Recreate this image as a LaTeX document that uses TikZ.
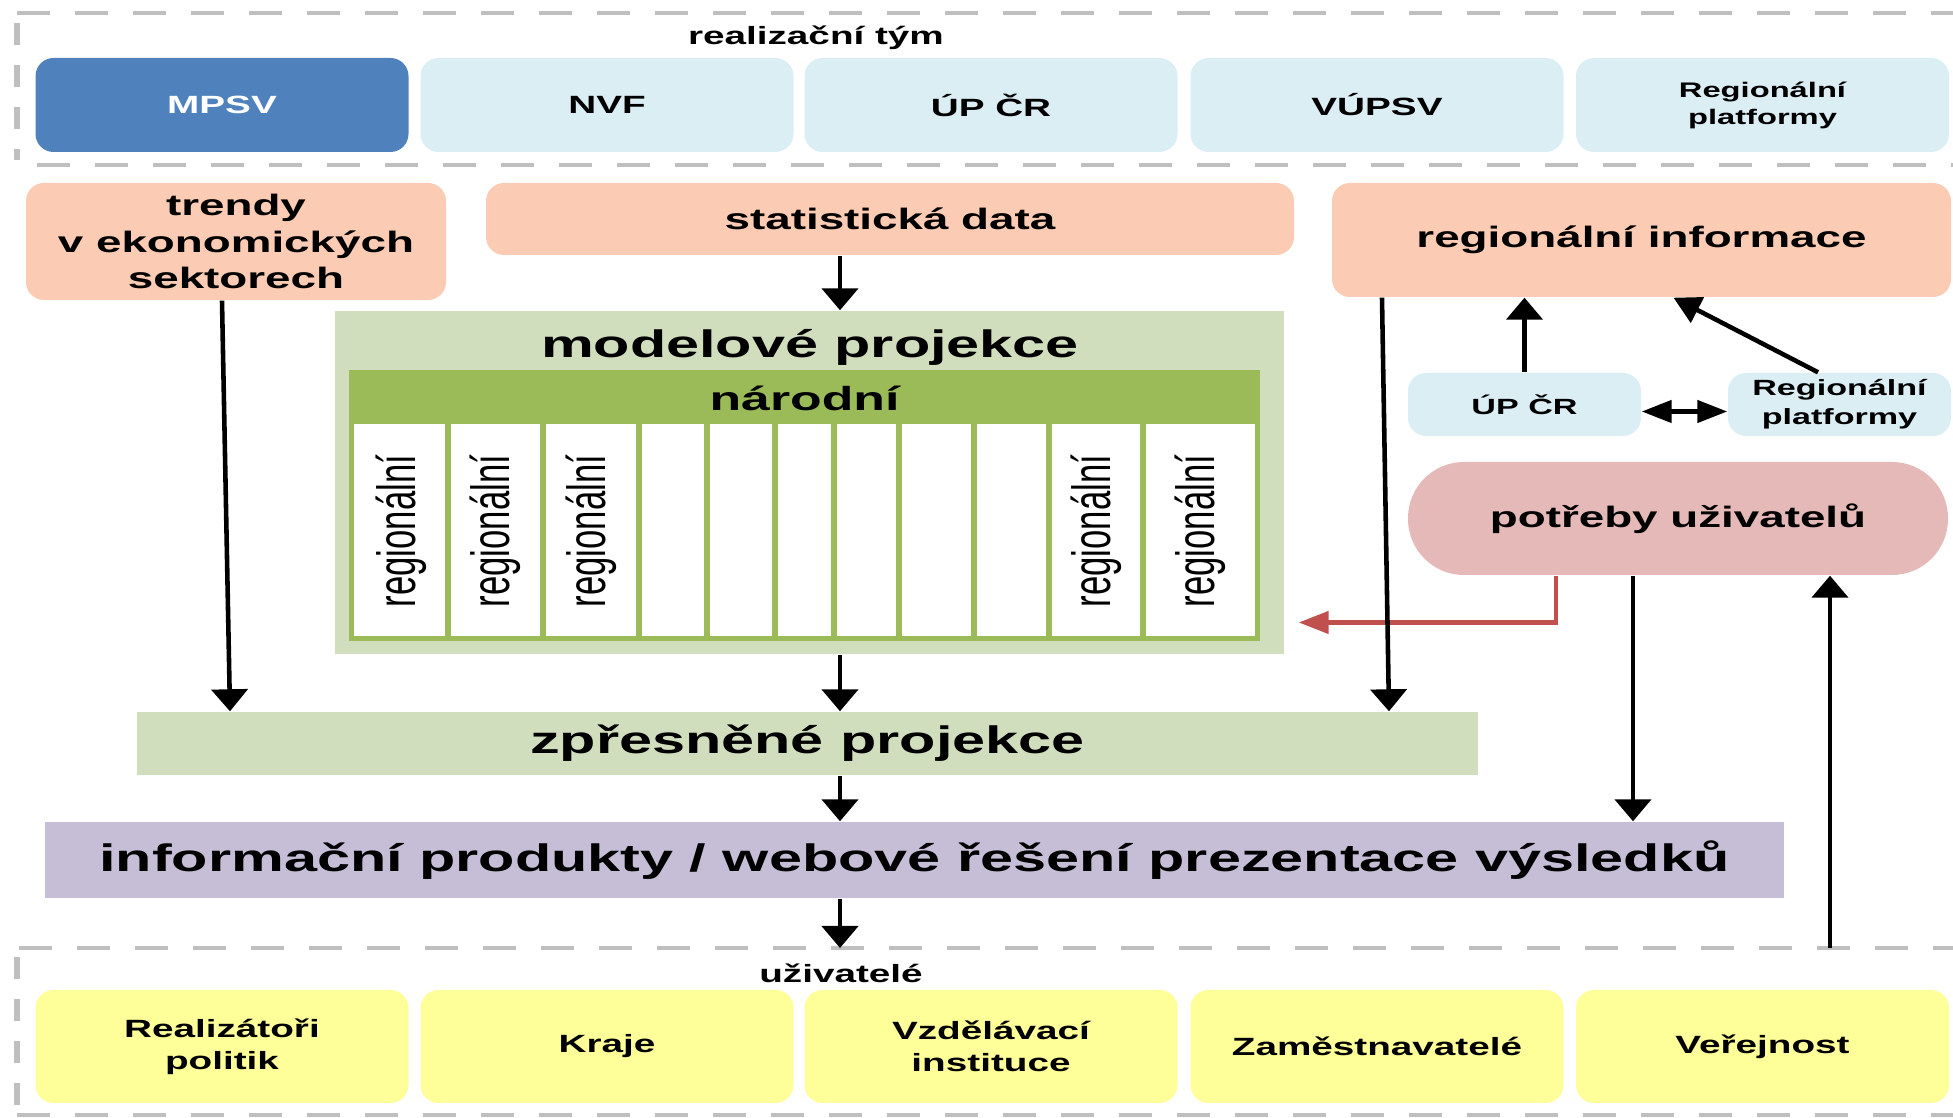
\documentclass[tikz,border=0pt]{standalone}
\usepackage{fontspec}
\setmainfont{Liberation Sans}[FakeStretch=1.55]
\newfontfamily\narrowfont{Liberation Sans}[FakeStretch=0.645]
\usetikzlibrary{arrows.meta}

\definecolor{mpsvblue}{HTML}{4F81BD}
\definecolor{teamblue}{HTML}{DBEEF4}
\definecolor{inputorange}{HTML}{FBCBB3}
\definecolor{modelgreen}{HTML}{D1DEBE}
\definecolor{natgreen}{HTML}{9BBB59}
\definecolor{infolilac}{HTML}{C6BED6}
\definecolor{needpink}{HTML}{E4B9B8}
\definecolor{useryellow}{HTML}{FFFF99}
\definecolor{framegray}{HTML}{BFBFBF}
\definecolor{needred}{HTML}{C0504D}

\tikzset{
  roundbox/.style={rounded corners=0.18cm, inner sep=0pt, align=center},
  teambox/.style={roundbox, fill=teamblue, minimum width=3.73cm, minimum height=0.94cm,
    font=\bfseries\fontsize{7.1}{9.1}\selectfont},
  userbox/.style={roundbox, fill=useryellow, minimum width=3.73cm, minimum height=1.13cm,
    font=\bfseries\fontsize{7.1}{9.1}\selectfont},
  inputbox/.style={roundbox, fill=inputorange, font=\bfseries\fontsize{8.4}{10.5}\selectfont},
  smallbox/.style={roundbox, fill=teamblue, minimum height=0.63cm,
    font=\bfseries\fontsize{6.26}{8.2}\selectfont},
  flatbox/.style={inner sep=0pt, align=center, font=\bfseries\fontsize{10.9}{13}\selectfont},
  regcol/.style={rotate=90, inner sep=0pt, font=\narrowfont\fontsize{15.3}{16}\selectfont},
  flow/.style={line width=1.3pt, -{Triangle[length=0.22cm,width=0.36cm]}},
  sideflow/.style={line width=1.3pt, -{Triangle[length=0.3cm,width=0.22cm]}},
  bothflow/.style={line width=1.3pt, {Triangle[length=0.3cm,width=0.22cm]}-{Triangle[length=0.3cm,width=0.22cm]}},
  diagflow/.style={line width=1.3pt, -{Triangle[length=0.27cm,width=0.28cm]}},
  dashline/.style={framegray, line width=0.04cm, dash pattern=on 0.33cm off 0.25cm},
  dashside/.style={framegray, line width=0.065cm, dash pattern=on 0.22cm off 0.2cm}
}

\begin{document}
\begin{tikzpicture}
    \useasboundingbox (0,0) rectangle (19.53,-11.18);

    % Draw the team frame
    \draw[dashline] (0.17,-0.13) -- (19.53,-0.13);
    \draw[dashline] (0.37,-1.65) -- (19.53,-1.65);
    \draw[dashside] (0.17,-0.23) -- (0.17,-1.60);
    \node[font=\bfseries\fontsize{7.1}{9}\selectfont] (teamlabel) at (8.16,-0.38) {realizační tým};

    % Draw the team boxes
    \node[teambox, fill=mpsvblue, text=white] (mpsv) at (2.22,-1.05) {MPSV};
    \node[teambox] (nvf) at (6.07,-1.05) {NVF};
    \node[teambox] (upcr) at (9.91,-1.05) {ÚP ČR};
    \node[teambox] (vupsv) at (13.77,-1.05) {VÚPSV};
    \node[teambox, font=\bfseries\fontsize{6}{7.7}\selectfont] (regplat) at (17.625,-1.05) {Regionální\\platformy};

    % Draw the inputs
    \node[inputbox, minimum width=4.20cm, minimum height=1.17cm] (trendy) at (2.36,-2.415) {trendy\\v ekonomických\\sektorech};
    \node[inputbox, minimum width=8.08cm, minimum height=0.72cm] (stat) at (8.90,-2.19) {statistická data};
    \node[inputbox, minimum width=6.19cm, minimum height=1.14cm] (reginf) at (16.415,-2.40) {regionální informace};

    % Draw the model block
    \node[fill=modelgreen, inner sep=0pt, minimum width=9.49cm, minimum height=3.43cm] (model) at (8.095,-4.825) {};
    \node[flatbox] (modtitle) at (8.10,-3.47) {modelové projekce};
    \draw[natgreen, line width=0.05cm, fill=white] (3.515,-3.73) rectangle (12.575,-6.385);
    \node[fill=natgreen, inner sep=0pt, minimum width=9.11cm, minimum height=0.51cm,
      font=\bfseries\fontsize{9.5}{11}\selectfont] (narodni) at (8.045,-3.985) {národní};
    \draw[natgreen, line width=0.055cm] (4.48,-4.24) -- (4.48,-6.385);
    \draw[natgreen, line width=0.055cm] (5.43,-4.24) -- (5.43,-6.385);
    \draw[natgreen, line width=0.055cm] (6.39,-4.24) -- (6.39,-6.385);
    \draw[natgreen, line width=0.055cm] (7.07,-4.24) -- (7.07,-6.385);
    \draw[natgreen, line width=0.055cm] (7.75,-4.24) -- (7.75,-6.385);
    \draw[natgreen, line width=0.055cm] (8.34,-4.24) -- (8.34,-6.385);
    \draw[natgreen, line width=0.055cm] (8.99,-4.24) -- (8.99,-6.385);
    \draw[natgreen, line width=0.055cm] (9.74,-4.24) -- (9.74,-6.385);
    \draw[natgreen, line width=0.055cm] (10.49,-4.24) -- (10.49,-6.385);
    \draw[natgreen, line width=0.055cm] (11.43,-4.24) -- (11.43,-6.385);
    \node[regcol] (reg1) at (4.01,-5.31) {regionální};
    \node[regcol] (reg2) at (4.955,-5.31) {regionální};
    \node[regcol] (reg3) at (5.91,-5.31) {regionální};
    \node[regcol] (reg4) at (10.96,-5.31) {regionální};
    \node[regcol] (reg5) at (12.0,-5.31) {regionální};

    % Draw the regional side
    \node[smallbox, minimum width=2.33cm] (upcr2) at (15.245,-4.045) {ÚP ČR};
    \node[smallbox, minimum width=2.23cm] (regplat2) at (18.395,-4.045) {Regionální\\platformy};
    \node[fill=needpink, rounded corners=0.56cm, inner sep=0pt, minimum width=5.40cm, minimum height=1.13cm,
      font=\bfseries\fontsize{8.4}{10}\selectfont] (needs) at (16.78,-5.185) {potřeby uživatelů};

    % Draw the outputs
    \node[flatbox, fill=modelgreen, minimum width=13.41cm, minimum height=0.63cm] (zpr) at (8.075,-7.435) {zpřesněné projekce};
    \node[flatbox, fill=infolilac, minimum width=17.39cm, minimum height=0.76cm] (info) at (9.145,-8.60) {informační produkty / webové řešení prezentace výsledků};

    % Draw the users frame
    \draw[dashline] (0.19,-9.48) -- (19.53,-9.48);
    \draw[dashline] (0.17,-11.155) -- (19.53,-11.155);
    \draw[dashside] (0.17,-9.57) -- (0.17,-11.10);
    \node[font=\bfseries\fontsize{7.1}{9}\selectfont] (userlabel) at (8.41,-9.73) {uživatelé};
    \coordinate (usertop) at (8.40,-9.48);
    \coordinate (mid) at (8.40,0);

    % Draw the user boxes
    \node[userbox] (realiz) at (2.22,-10.465) {Realizátoři\\politik};
    \node[userbox] (kraje) at (6.07,-10.465) {Kraje};
    \node[userbox] (vzdel) at (9.91,-10.465) {Vzdělávací\\instituce};
    \node[userbox] (zamest) at (13.77,-10.465) {Zaměstnavatelé};
    \node[userbox] (verej) at (17.625,-10.465) {Veřejnost};

    % Draw the arrows
    \draw[sideflow, needred] ([xshift=-1.22cm]needs.south) |- ([xshift=0.14cm,yshift=-1.40cm]model.east);
    \draw[flow] (stat.south -| mid) -- (model.north -| mid);
    \draw[flow] (model.south -| mid) -- (zpr.north -| mid);
    \draw[flow] (zpr.south -| mid) -- (info.north -| mid);
    \draw[flow] (info.south -| mid) -- (usertop);
    \draw[flow] ([xshift=-0.14cm]trendy.south) -- ([xshift=-0.06cm]trendy.south |- zpr.north);
    \draw[flow] ([xshift=-2.595cm]reginf.south) -- ([xshift=-2.525cm]reginf.south |- zpr.north);
    \draw[flow] (upcr2.north) -- (upcr2.north |- reginf.south);
    \draw[diagflow] ([xshift=-0.215cm]regplat2.north) -- ([xshift=0.32cm]reginf.south);
    \draw[bothflow] ([yshift=-0.07cm]upcr2.east) -- ([yshift=-0.07cm]regplat2.west);
    \draw[flow] ([xshift=-0.45cm]needs.south) -- ([xshift=-0.45cm]needs.south |- info.north);
    \draw[flow] ([xshift=1.52cm]needs.south |- usertop) -- ([xshift=1.52cm]needs.south);
\end{tikzpicture}
\end{document}
